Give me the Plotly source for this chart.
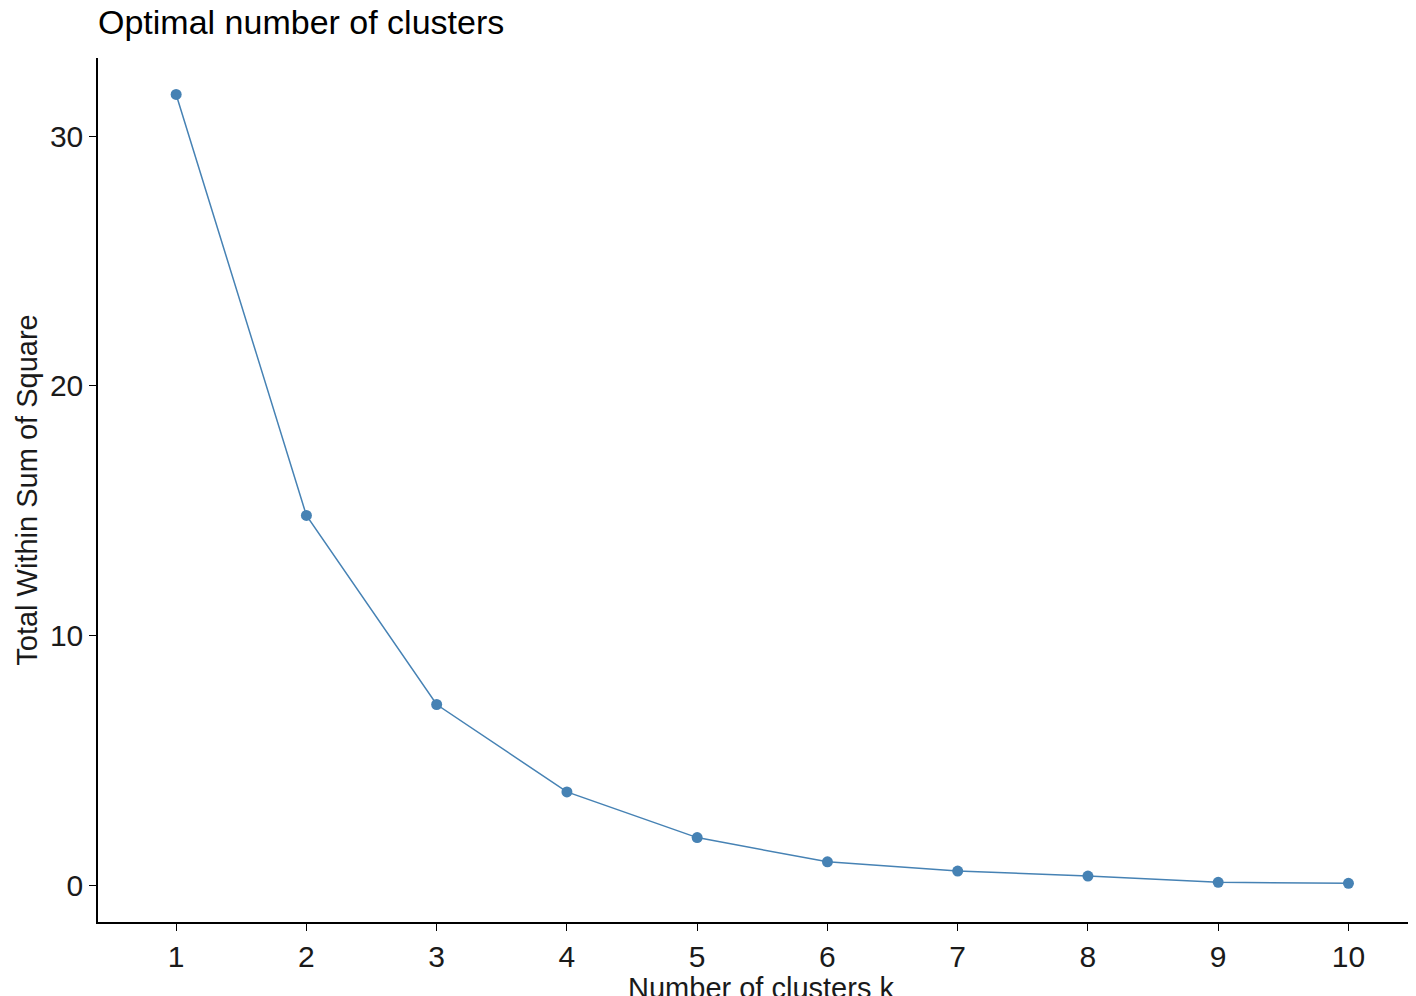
import plotly.graph_objects as go

k_values = [1, 2, 3, 4, 5, 6, 7, 8, 9, 10]
wss = [31.67, 14.81, 7.24, 3.74, 1.91, 0.94, 0.57, 0.37, 0.12, 0.08]

fig = go.Figure()
fig.add_trace(go.Scatter(
    x=k_values, y=wss, mode="lines+markers",
    line=dict(color="#4682B4", width=1.5),
    marker=dict(color="#4682B4", size=11),
    showlegend=False,
))

fig.update_layout(
    width=1416, height=996,
    margin=dict(l=90, r=0, t=50, b=82),
    plot_bgcolor="white", paper_bgcolor="white",
    font=dict(family="Liberation Sans, Arial", size=30, color="#1a1a1a"),
    title=dict(text="Optimal number of clusters", x=0, xref="paper",
               y=0.998, yref="container", xanchor="left", yanchor="top",
               font=dict(size=34, color="black")),
)
fig.update_xaxes(
    range=[0.4, 10.58], tickvals=k_values, showgrid=False, zeroline=False,
    showline=True, linecolor="black", linewidth=1.5,
    ticks="outside", ticklen=7, tickcolor="black",
    title=dict(text="Number of clusters k", font=dict(size=29), standoff=4),
)
fig.update_yaxes(
    range=[-1.47, 33.13], tickvals=[0, 10, 20, 30], showgrid=False, zeroline=False,
    showline=True, linecolor="black", linewidth=1.5,
    ticks="outside", ticklen=7, tickcolor="black",
    title=dict(text="Total Within Sum of Square", font=dict(size=29), standoff=4),
)

fig.write_html("out.html")
